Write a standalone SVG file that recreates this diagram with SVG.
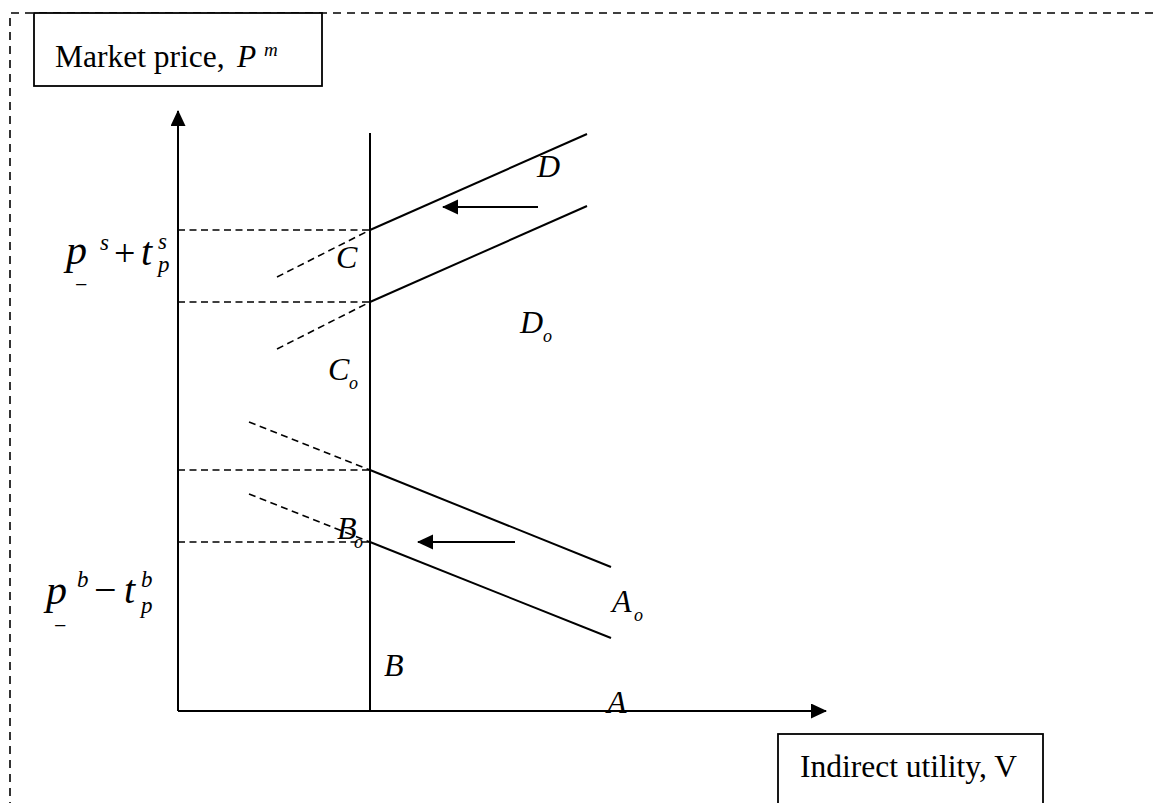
<svg xmlns="http://www.w3.org/2000/svg" width="1154" height="803" viewBox="0 0 1154 803">
<defs>
<marker id="ah" markerWidth="16" markerHeight="16" refX="15" refY="7.5" orient="auto" markerUnits="userSpaceOnUse">
<path d="M0,0 L16,7.5 L0,15 Z" fill="#000"/>
</marker>
<style>
.t{font-family:"Liberation Serif","Times New Roman",serif;fill:#000}
.i{font-style:italic}
.s{stroke:#000;stroke-width:2;fill:none}
.d{stroke:#000;stroke-width:1.6;stroke-dasharray:7 4.5;fill:none}
.b{stroke:#000;stroke-width:1.6;stroke-dasharray:8 6;fill:none}
.box{stroke:#000;stroke-width:1.8;fill:#fff}
</style>
</defs>
<rect width="1154" height="803" fill="#fff"/>
<path class="b" d="M10,810 L10,13 L1160,13"/>
<g id="ylabel">
<rect class="box" x="34" y="13" width="288" height="73"/>
<text class="t" x="55" y="67" font-size="31.5">Market price,</text>
<text class="t i" x="237" y="67" font-size="31.5">P</text>
<text class="t i" x="264" y="56" font-size="19">m</text>
</g>
<g id="xlabel">
<rect class="box" x="778" y="734" width="265" height="90"/>
<text class="t" x="800" y="777" font-size="31.5">Indirect utility, V</text>
</g>
<g id="connectors">
<line class="s" x1="178" y1="711" x2="178" y2="111" marker-end="url(#ah)"/>
<line class="s" x1="178" y1="711" x2="826" y2="711" marker-end="url(#ah)"/>
<line class="s" x1="370" y1="133" x2="370" y2="711"/>
<line class="s" x1="370" y1="230" x2="587" y2="134"/>
<line class="s" x1="370" y1="302" x2="587" y2="206"/>
<line class="d" x1="178" y1="230" x2="370" y2="230"/>
<line class="d" x1="178" y1="302" x2="370" y2="302"/>
<line class="d" x1="277" y1="277" x2="370" y2="230"/>
<line class="d" x1="277" y1="349" x2="370" y2="302"/>
<line class="s" x1="538" y1="207" x2="443" y2="207" marker-end="url(#ah)"/>
<line class="s" x1="370" y1="470" x2="611" y2="567"/>
<line class="s" x1="370" y1="542" x2="611" y2="638"/>
<line class="d" x1="178" y1="470" x2="370" y2="470"/>
<line class="d" x1="178" y1="542" x2="370" y2="542"/>
<line class="d" x1="249" y1="422" x2="370" y2="470"/>
<line class="d" x1="249" y1="494" x2="370" y2="542"/>
<line class="s" x1="515" y1="542" x2="418" y2="542" marker-end="url(#ah)"/>
</g>
<g id="labels">
<text class="t i" x="537" y="177" font-size="32">D</text>
<text class="t i" x="336" y="268" font-size="32">C</text>
<text class="t i" x="520" y="333" font-size="32">D</text>
<text class="t i" x="543" y="342" font-size="18">o</text>
<text class="t i" x="328" y="380" font-size="32">C</text>
<text class="t i" x="349" y="389" font-size="18">o</text>
<text class="t i" x="337" y="539" font-size="32">B</text>
<text class="t i" x="354" y="548" font-size="18">o</text>
<text class="t i" x="612" y="612" font-size="32">A</text>
<text class="t i" x="634" y="621" font-size="18">o</text>
<text class="t i" x="384" y="676" font-size="32">B</text>
<text class="t i" x="607" y="713" font-size="32">A</text>
</g>
<g id="ps">
<text class="t i" x="66" y="264" font-size="42">p</text>
<text class="t i" x="100" y="250" font-size="23">s</text>
<text class="t" x="114" y="266" font-size="38">+</text>
<text class="t i" x="141" y="265" font-size="40">t</text>
<text class="t i" x="158" y="249" font-size="23">s</text>
<text class="t i" x="158" y="272" font-size="23">p</text>
<text class="t" x="75" y="292" font-size="22">−</text>
</g>
<g id="pb">
<text class="t i" x="46" y="604" font-size="42">p</text>
<text class="t i" x="77" y="587" font-size="23">b</text>
<text class="t" x="94" y="603" font-size="40">−</text>
<text class="t i" x="124" y="603" font-size="40">t</text>
<text class="t i" x="141" y="587" font-size="23">b</text>
<text class="t i" x="141" y="613" font-size="23">p</text>
<text class="t" x="54" y="633" font-size="22">−</text>
</g>
</svg>
